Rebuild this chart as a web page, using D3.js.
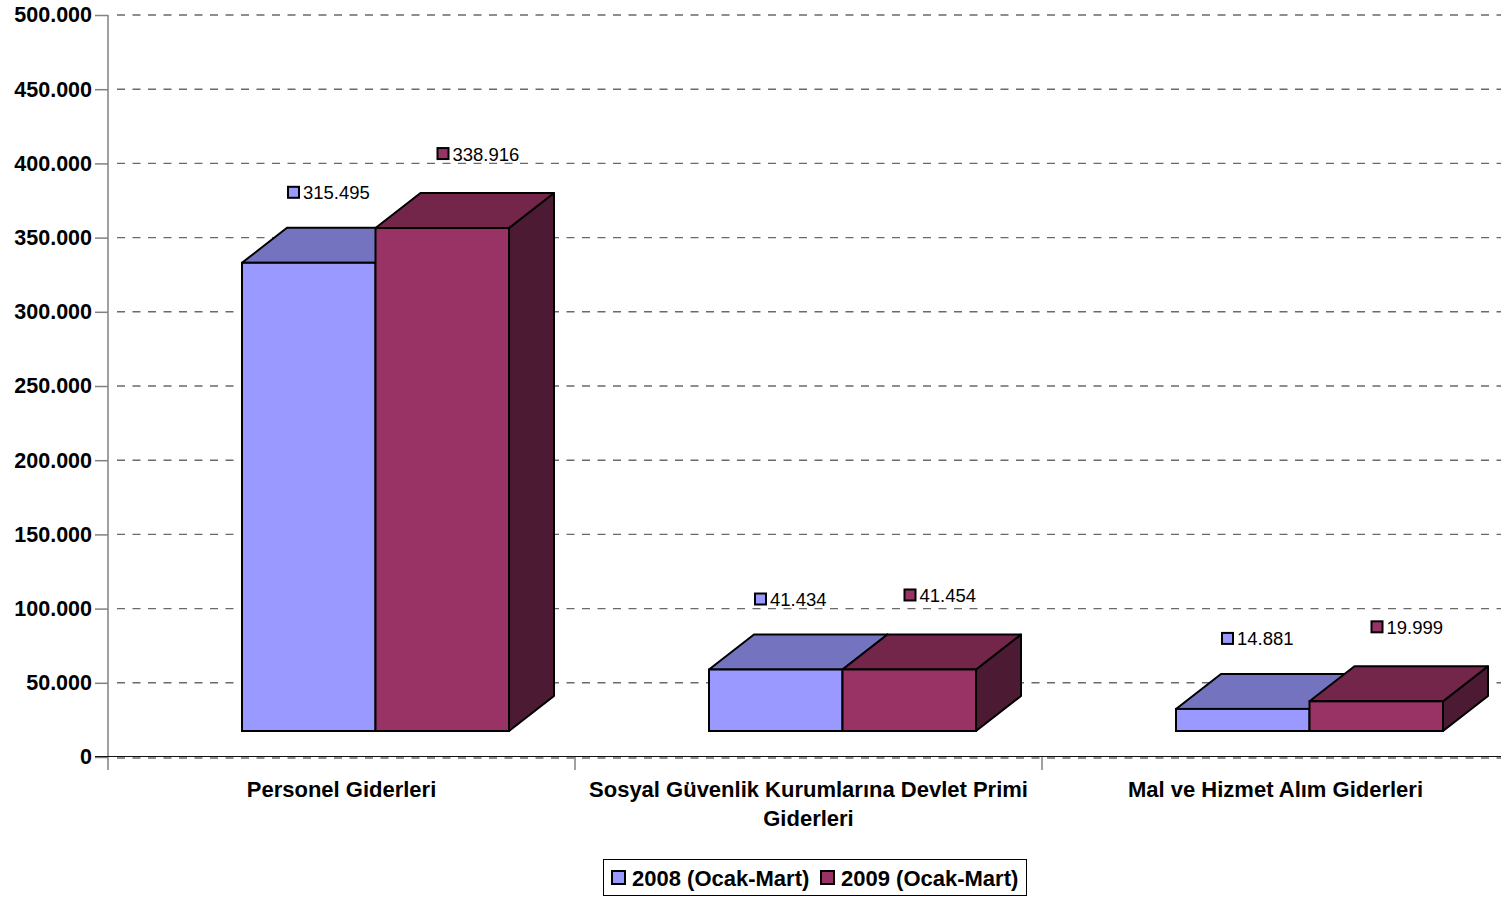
<!DOCTYPE html>
<html>
<head>
<meta charset="utf-8">
<script src="https://cdn.jsdelivr.net/npm/d3@7"></script>
<style>
  html, body { margin: 0; padding: 0; background: #ffffff; }
  svg { display: block; font-family: "Liberation Sans", Arial, sans-serif; }
</style>
</head>
<body>
<svg id="chart" width="1501" height="899"></svg>
<script>
// ---- data ----
const categories = ["Personel Giderleri", "Sosyal Güvenlik Kurumlarına Devlet Primi Giderleri", "Mal ve Hizmet Alım Giderleri"];
const seriesNames = ["2008 (Ocak-Mart)", "2009 (Ocak-Mart)"];
const values2008 = [315495, 41434, 14881];
const values2009 = [338916, 41454, 19999];
const tickValues = [0, 50000, 100000, 150000, 200000, 250000, 300000, 350000, 400000, 450000, 500000];
const tickLabels = ["0", "50.000", "100.000", "150.000", "200.000", "250.000", "300.000", "350.000", "400.000", "450.000", "500.000"];

// ---- styling ----
const frontColors = ["#9999FF", "#993366"];
const topColors = ["#7373BF", "#732649"];
const sideColors = ["#5C5C99", "#4C1A33"];
const DX = 45, DY = 35, FLOOR = 26;

const svg = d3.select("#chart");
const locale = d3.formatLocale({decimal: ",", thousands: ".", grouping: [3], currency: ["", ""]});
const fmt = locale.format(",d");

const x0 = d3.scaleBand().domain(categories).range([108, 1509]).paddingInner(0).paddingOuter(0);
const x1 = d3.scaleBand().domain(seriesNames).range([134, 401]);
const y = d3.scaleLinear().domain([0, 500000]).range([757, 15]);

// gridlines
svg.append("g").selectAll("line").data(tickValues).join("line")
  .attr("x1", 117).attr("x2", 1501)
  .attr("y1", d => y(d) + (d === 0 ? 1 : 0)).attr("y2", d => y(d) + (d === 0 ? 1 : 0))
  .attr("stroke", "#6a6a6a").attr("stroke-width", 1.4).attr("stroke-dasharray", "8,7.5");

// y axis
const yAxis = d3.axisLeft(y).tickValues(tickValues)
  .tickFormat((d, i) => tickLabels[i]).tickSize(13).tickPadding(3);
const ya = svg.append("g").attr("transform", "translate(108,0)").call(yAxis);
ya.select(".domain").attr("stroke", "#808080").attr("stroke-width", 1.5).attr("d", "M0,15V770");
ya.selectAll(".tick line").attr("stroke", "#808080").attr("stroke-width", 1.5);
ya.selectAll(".tick text").attr("fill", "#000").attr("font-size", "21.5px").attr("font-weight", "bold")
  .attr("font-family", "'Liberation Sans', Arial, sans-serif");

// x axis baseline
svg.append("line").attr("x1", 95).attr("x2", 1501).attr("y1", y(0) - 0.5).attr("y2", y(0) - 0.5)
  .attr("stroke", "#111").attr("stroke-width", 1.2);
// category ticks
svg.append("g").selectAll("line").data(categories.slice(1)).join("line")
  .attr("x1", d => x0(d)).attr("x2", d => x0(d))
  .attr("y1", y(0)).attr("y2", y(0) + 13)
  .attr("stroke", "#808080").attr("stroke-width", 1.5);

// bars
const barData = [];
categories.forEach((c, ci) => {
  [values2008[ci], values2009[ci]].forEach((v, si) => {
    barData.push({cat: c, ci, si, series: seriesNames[si], value: v});
  });
});

const bars = svg.append("g");
barData.forEach(d => {
  const xl = x0(d.cat) + x1(d.series);
  const xr = xl + x1.bandwidth();
  const yb = y(0) - FLOOR;
  const yt = y(d.value) - FLOOR;
  const g = bars.append("g");
  // side
  g.append("path")
    .attr("d", `M${xr},${yb}L${xr + DX},${yb - DY}L${xr + DX},${yt - DY}L${xr},${yt}Z`)
    .attr("fill", sideColors[d.si]).attr("stroke", "#000").attr("stroke-width", 2).attr("stroke-linejoin", "round");
  // top
  g.append("path")
    .attr("d", `M${xl},${yt}L${xl + DX},${yt - DY}L${xr + DX},${yt - DY}L${xr},${yt}Z`)
    .attr("fill", topColors[d.si]).attr("stroke", "#000").attr("stroke-width", 2).attr("stroke-linejoin", "round");
  // front
  g.append("rect").attr("x", xl).attr("y", yt).attr("width", xr - xl).attr("height", yb - yt)
    .attr("fill", frontColors[d.si]).attr("stroke", "#000").attr("stroke-width", 2);
});

// data labels
const labOffX = [46, 62];
const labOffY = [70, 74];
const labels = svg.append("g");
barData.forEach(d => {
  const xl = x0(d.cat) + x1(d.series);
  const yt = y(d.value) - FLOOR;
  const sx = xl + labOffX[d.si];
  const cy = yt - labOffY[d.si];
  labels.append("rect").attr("x", sx).attr("y", cy - 6).attr("width", 11).attr("height", 11)
    .attr("fill", frontColors[d.si]).attr("stroke", "#000").attr("stroke-width", 2);
  labels.append("text").attr("x", sx + 15).attr("y", cy + 6.5)
    .attr("font-size", "18.5px").attr("fill", "#000").text(fmt(d.value));
});

// category labels (wrapped)
const catG = svg.append("g");
categories.forEach(c => {
  const cx = x0(c) + x0.bandwidth() / 2;
  const t = catG.append("text").attr("x", cx).attr("y", 797)
    .attr("text-anchor", "middle").attr("font-size", "22px").attr("font-weight", "bold").attr("fill", "#000");
  const words = c.split(" ");
  let line = [];
  let lineNo = 0;
  let tspan = t.append("tspan").attr("x", cx).attr("y", 797);
  words.forEach(w => {
    line.push(w);
    tspan.text(line.join(" "));
    if (tspan.node().getComputedTextLength() > 455 && line.length > 1) {
      line.pop();
      tspan.text(line.join(" "));
      line = [w];
      lineNo++;
      tspan = t.append("tspan").attr("x", cx).attr("y", 797 + lineNo * 29).text(w);
    }
  });
});

// legend
const leg = svg.append("g");
leg.append("rect").attr("x", 603.5).attr("y", 859.5).attr("width", 423).attr("height", 36)
  .attr("fill", "#fff").attr("stroke", "#000").attr("stroke-width", 1);
const legX = [612, 821];
seriesNames.forEach((s, i) => {
  leg.append("rect").attr("x", legX[i]).attr("y", 871).attr("width", 13).attr("height", 13)
    .attr("fill", frontColors[i]).attr("stroke", "#000").attr("stroke-width", 2);
  leg.append("text").attr("x", legX[i] + 20).attr("y", 885.5)
    .attr("font-size", "22px").attr("font-weight", "bold").attr("fill", "#000").text(s);
});
</script>
</body>
</html>
